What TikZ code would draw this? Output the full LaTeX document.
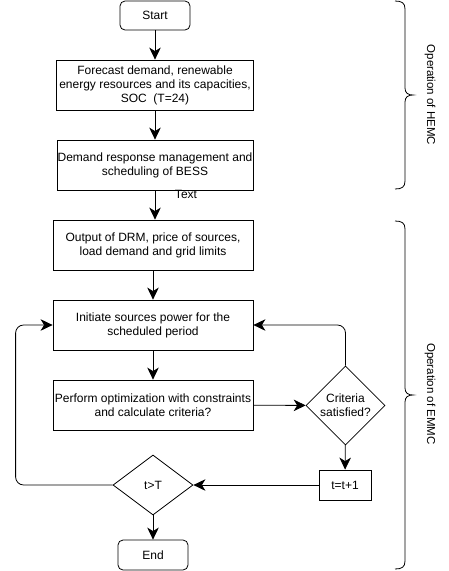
\documentclass[tikz,border=0pt]{standalone}
\usepackage{fontspec}
\setmainfont{Liberation Sans}
\usetikzlibrary{shapes.geometric,arrows.meta}
\begin{document}
\begin{tikzpicture}[x=1pt,y=1pt,
  every node/.style={font=\fontsize{12}{14}\selectfont},
  box/.style={draw, line width=0.8pt, align=center, inner sep=0pt},
  rbox/.style={box, rounded corners=5pt},
  dia/.style={draw, line width=0.8pt, diamond, inner sep=0pt},
  arr/.style={draw, line width=0.8pt, -{Stealth[length=12pt,width=11.5pt,inset=3.5pt]}},
  brace/.style={draw, line width=0.8pt},
  side/.style={rotate=-90, font=\fontsize{11.5}{13}\selectfont}
]
\useasboundingbox (0,0) rectangle (448,-571);

\node[rbox, minimum width=70pt, minimum height=29pt] (start) at (155,-15.5) {Start};
\node[box, minimum width=197pt, minimum height=50pt] (fc) at (155,-85) {Forecast demand, renewable\\energy resources and its capacities,\\SOC\ \ (T=24)};
\node[box, minimum width=196pt, minimum height=50pt] (drm) at (155,-165) {Demand response management and\\scheduling of BESS};
\node (txt) at (186,-194) {Text};
\node[box, minimum width=200pt, minimum height=50pt] (out) at (153,-245) {Output of DRM, price of sources,\\load demand and grid limits};
\node[box, minimum width=200pt, minimum height=50pt] (init) at (153,-325) {Initiate sources power for the\\scheduled period};
\node[box, minimum width=200pt, minimum height=50pt] (perf) at (153,-405) {Perform optimization with constraints\\and calculate criteria?};
\node[dia, minimum width=79pt, minimum height=79pt, label={[align=center]center:Criteria\\satisfied?}] (crit) at (345.5,-405.5) {};
\node[box, minimum width=52pt, minimum height=30pt] (inc) at (345,-485) {t=t+1};
\node[dia, minimum width=80pt, minimum height=60pt, label={center:t>T}] (tT) at (153,-485) {};
\node[rbox, minimum width=70pt, minimum height=30pt] (stop) at (153,-555) {End};

\draw[arr] (start) -- (fc);
\draw[arr] (fc) -- (drm);
\draw[arr] (drm.south) -- (drm.south |- out.north);
\draw[arr] (out) -- (init);
\draw[arr] (init) -- (perf);
\draw[arr] (perf) -- (crit);
\draw[arr] (crit) -- (inc);
\draw[arr] (inc) -- (tT);
\draw[arr] (tT) -- (stop);
\draw[arr, rounded corners=8pt] (tT.west) -- ++(-97,0) |- (init.west);
\draw[arr, rounded corners=8pt] (crit.north) |- (init.east);

\draw[brace] (395,-1) .. controls (402,-1) and (405,-3) .. (405,-9) -- (405,-88)
  .. controls (405,-93) and (408,-95) .. (413,-95)
  .. controls (408,-95) and (405,-97) .. (405,-102) -- (405,-181)
  .. controls (405,-187) and (402,-189) .. (395,-189);
\draw[brace] (395,-221) .. controls (402,-221) and (405,-223) .. (405,-229) -- (405,-388)
  .. controls (405,-393) and (408,-395) .. (413,-395)
  .. controls (408,-395) and (405,-397) .. (405,-402) -- (405,-561)
  .. controls (405,-567) and (402,-569) .. (395,-569);
\node[side] (hemc) at (430,-95) {Operation of HEMC};
\node[side] (emmc) at (430,-394) {Operation of EMMC};
\end{tikzpicture}
\end{document}
